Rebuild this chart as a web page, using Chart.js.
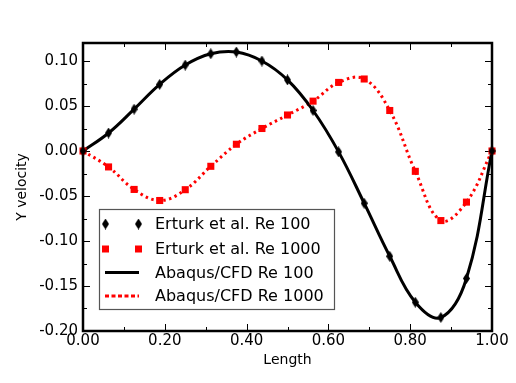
<!DOCTYPE html>
<html><head><meta charset="utf-8">
<script src="https://cdn.jsdelivr.net/npm/chart.js@4.4.1/dist/chart.umd.min.js"></script>
<style>html,body{margin:0;padding:0;background:#fff}#wrap{width:516px;height:383px}</style>
</head><body><div id="wrap"><canvas id="c" width="516" height="383"></canvas></div>
<script>
// ---- data ----
const erturkX = [0, 0.0625, 0.125, 0.1875, 0.25, 0.3125, 0.375, 0.4375, 0.5, 0.5625, 0.625, 0.6875, 0.75, 0.8125, 0.875, 0.9375, 1.0];
const erturkRe100 = [0, 0.020, 0.0465, 0.074, 0.0955, 0.108, 0.110, 0.100, 0.079, 0.045, -0.001, -0.058, -0.117, -0.168, -0.185, -0.1416, 0];
const erturkRe1000 = [0, -0.0177, -0.0427, -0.055, -0.043, -0.017, 0.0075, 0.025, 0.040, 0.0554, 0.0762, 0.080, 0.045, -0.0226, -0.0773, -0.0568, 0];
const cfdX = [0, 0.0625, 0.125, 0.1875, 0.25, 0.3125, 0.375, 0.4375, 0.5, 0.5625, 0.625, 0.6875, 0.75, 0.8125, 0.875, 0.9375, 1.0];
const cfdRe100 = [0, 0.020, 0.0465, 0.074, 0.0955, 0.108, 0.110, 0.100, 0.079, 0.045, -0.001, -0.058, -0.117, -0.168, -0.185, -0.1416, 0];
const cfdRe1000 = [0, -0.0177, -0.0427, -0.055, -0.043, -0.017, 0.0075, 0.025, 0.040, 0.0554, 0.0762, 0.080, 0.045, -0.0226, -0.0773, -0.0568, 0];
const legendLabels = ['Erturk et al. Re 100', 'Erturk et al. Re 1000', 'Abaqus/CFD Re 100', 'Abaqus/CFD Re 1000'];
const xTicks = [0, 0.2, 0.4, 0.6, 0.8, 1.0];
const xMinorTicks = [0.1, 0.3, 0.5, 0.7, 0.9];
const yTicks = [-0.20, -0.15, -0.10, -0.05, 0.00, 0.05, 0.10];
const yMinorTicks = [-0.175, -0.125, -0.075, -0.025, 0.025, 0.075];
const xTitle = 'Length';
const yTitle = 'Y velocity';

const FONT = "'DejaVu Sans', sans-serif";

function makeDiamond() {
  const c = document.createElement('canvas');
  c.width = 7; c.height = 11;
  const g = c.getContext('2d');
  g.fillStyle = '#000';
  g.beginPath();
  g.moveTo(3.5, 0); g.lineTo(7, 5.5); g.lineTo(3.5, 11); g.lineTo(0, 5.5);
  g.closePath(); g.fill();
  return c;
}
const diamond = makeDiamond();

const pts = (xs, ys) => xs.map((x, i) => ({x, y: ys[i]}));

const framePlugin = {
  id: 'frameTicks',
  beforeDatasetsDraw(chart) {
    const {ctx, chartArea: a, scales: {x, y}} = chart;
    ctx.save();
    ctx.strokeStyle = '#000';
    ctx.lineWidth = 1;
    const tick = (px, py, dx, dy) => { ctx.beginPath(); ctx.moveTo(px, py); ctx.lineTo(px + dx, py + dy); ctx.stroke(); };
    xTicks.forEach(v => { const p = Math.round(x.getPixelForValue(v)) + 0.5; tick(p, a.bottom, 0, -7); tick(p, a.top, 0, 7); });
    xMinorTicks.forEach(v => { const p = Math.round(x.getPixelForValue(v)) + 0.5; tick(p, a.bottom, 0, -4); tick(p, a.top, 0, 4); });
    yTicks.forEach(v => { const p = Math.round(y.getPixelForValue(v)) + 0.5; tick(a.left, p, 7, 0); tick(a.right, p, -7, 0); });
    yMinorTicks.forEach(v => { const p = Math.round(y.getPixelForValue(v)) + 0.5; tick(a.left, p, 4, 0); tick(a.right, p, -4, 0); });
    ctx.lineWidth = 2.5;
    ctx.strokeRect(a.left, a.top, a.right - a.left, a.bottom - a.top);
    ctx.restore();
  }
};

const legendPlugin = {
  id: 'customLegend',
  afterDraw(chart) {
    const ctx = chart.ctx;
    const ds = chart.data.datasets;
    ctx.save();
    const bx = 99.5, by = 209.5, bw = 235, bh = 100;
    ctx.fillStyle = '#fff';
    ctx.fillRect(bx, by, bw, bh);
    ctx.strokeStyle = '#555';
    ctx.lineWidth = 1.2;
    ctx.strokeRect(bx, by, bw, bh);
    const rows = [224, 249, 272.5, 296];
    const m1 = 105.5, m2 = 138.5;
    [m1, m2].forEach(mx => ctx.drawImage(diamond, mx - 3.5, rows[0] - 5.5));
    ctx.fillStyle = ds[1].pointBackgroundColor;
    [m1, m2].forEach(mx => ctx.fillRect(mx - 3.5, rows[1] - 3.5, 7, 7));
    ctx.strokeStyle = ds[2].borderColor; ctx.lineWidth = ds[2].borderWidth;
    ctx.beginPath(); ctx.moveTo(105, rows[2]); ctx.lineTo(139, rows[2]); ctx.stroke();
    ctx.strokeStyle = ds[3].borderColor; ctx.lineWidth = ds[3].borderWidth;
    ctx.setLineDash([4, 2.5]);
    ctx.beginPath(); ctx.moveTo(105, rows[3]); ctx.lineTo(139, rows[3]); ctx.stroke();
    ctx.setLineDash([]);
    ctx.fillStyle = '#000';
    ctx.font = '16px ' + FONT;
    ctx.textBaseline = 'middle';
    ctx.textAlign = 'left';
    legendLabels.forEach((t, i) => ctx.fillText(t, 155, rows[i] + 1));
    ctx.restore();
  }
};

new Chart(document.getElementById('c'), {
  type: 'scatter',
  data: {
    datasets: [
      { label: legendLabels[0], data: pts(erturkX, erturkRe100), pointStyle: diamond, pointRadius: 5, showLine: false, clip: false,
        pointBackgroundColor: '#000', pointBorderColor: '#000' },
      { label: legendLabels[1], data: pts(erturkX, erturkRe1000), pointStyle: 'rect', pointRadius: 5, pointBorderWidth: 0, showLine: false, clip: false,
        pointBackgroundColor: '#ff0000', pointBorderColor: '#ff0000' },
      { label: legendLabels[2], data: pts(cfdX, cfdRe100), showLine: true, pointRadius: 0, borderColor: '#000', borderWidth: 3, tension: 0.4, clip: false },
      { label: legendLabels[3], data: pts(cfdX, cfdRe1000), showLine: true, pointRadius: 0, borderColor: '#ff0000', borderWidth: 3, borderDash: [2.5, 3.5], tension: 0.4, clip: false }
    ]
  },
  options: {
    responsive: false, animation: false, devicePixelRatio: 1,
    layout: { padding: { left: 0, top: 43, right: 24, bottom: 0 } },
    plugins: { legend: { display: false }, tooltip: { enabled: false } },
    scales: {
      x: {
        type: 'linear', min: 0, max: 1,
        afterFit: s => { s.height = 52; },
        afterBuildTicks: s => { s.ticks = xTicks.map(v => ({value: v})); },
        grid: { display: false, drawTicks: false },
        border: { display: false },
        ticks: { color: '#000', font: { family: FONT, size: 15 }, padding: 1, maxRotation: 0, callback: v => Number(v).toFixed(2) },
        title: { display: true, text: xTitle, color: '#000', font: { family: FONT, size: 14 }, padding: { top: 0, bottom: 14 } }
      },
      y: {
        type: 'linear', min: -0.20, max: 0.12,
        afterFit: s => { s.width = 83; },
        afterBuildTicks: s => { s.ticks = yTicks.map(v => ({value: v})); },
        grid: { display: false, drawTicks: false },
        border: { display: false },
        ticks: { color: '#000', font: { family: FONT, size: 15 }, padding: 5, callback: v => Number(v).toFixed(2) },
        title: { display: true, text: yTitle, color: '#000', font: { family: FONT, size: 14 }, padding: { top: 14, bottom: 0 } }
      }
    }
  },
  plugins: [framePlugin, legendPlugin]
});
</script>
</body></html>
